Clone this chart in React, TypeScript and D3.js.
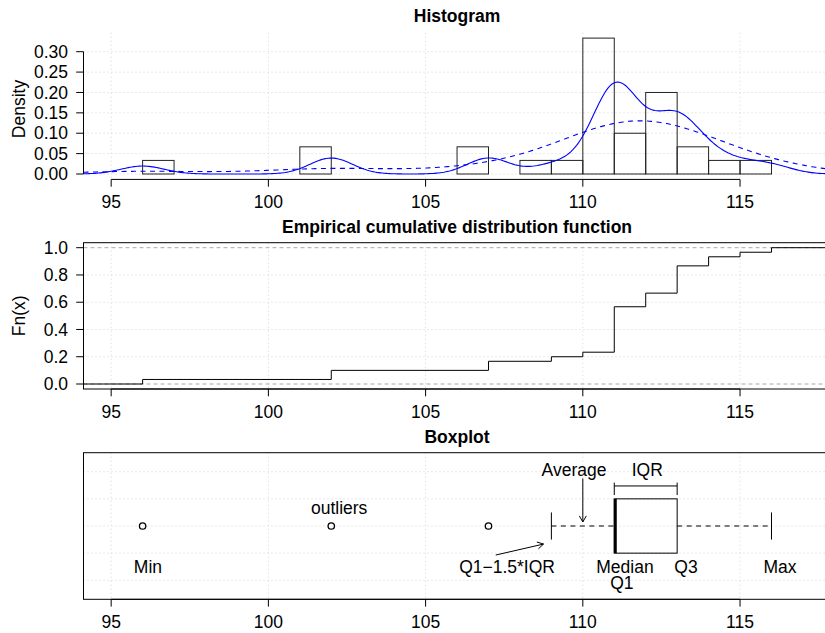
import React from "react";
import * as d3 from "d3";

const observations = [
  96, 102, 102, 107, 107, 109, 110,
  111, 111, 111, 111, 111, 111, 111, 111, 111, 111,
  112, 112, 112,
  113, 113, 113, 113, 113, 113,
  114, 114, 115, 116,
];
const binEdges = [96, 97, 98, 99, 100, 101, 102, 103, 104, 105, 106, 107, 108, 109, 110, 111, 112, 113, 114, 115, 116];
const xTicks = [95, 100, 105, 110, 115];
const densityTicks = [0, 0.05, 0.1, 0.15, 0.2, 0.25, 0.3];
const ecdfTicks = [0, 0.2, 0.4, 0.6, 0.8, 1];
const boxGridLevels = [0.6, 0.8, 1, 1.2, 1.4];
const wideBwFactor = 3; // dashed curve: smoother kernel estimate

const FONT = "'Liberation Sans', Arial, Helvetica, sans-serif";
const FS = 17.5;
const W = 825;
const H = 633;
const DASH = "5,4.5";

const x = d3.scaleLinear().domain([94.12, 117.88]).range([83.5, 830.6]);

// panel regions
const hist = { top: 32.7, bottom: 179.4 };
const ecdfP = { top: 242.7, bottom: 389 };
const boxP = { top: 452.7, bottom: 599.3 };

const yHist = d3.scaleLinear().domain([0, 0.3]).range([174, 51.7]);
const yEcdf = d3.scaleLinear().domain([0, 1]).range([384, 247.7]);
const yBox = d3.scaleLinear().domain([0.6, 1.4]).range([580.3, 471.7]);

const n = observations.length;
const sorted = observations.slice().sort(d3.ascending);

// histogram, right-closed bins with lowest included (like R's hist)
const bins = binEdges.slice(0, -1).map((a, i) => {
  const b = binEdges[i + 1];
  const count = sorted.filter((v) => (i === 0 ? v >= a : v > a) && v <= b).length;
  return { a, b, density: count / (n * (b - a)) };
});

// kernel density estimates
const q1 = d3.quantile(sorted, 0.25)!;
const q3 = d3.quantile(sorted, 0.75)!;
const med = d3.median(sorted)!;
const sd = d3.deviation(sorted)!;
const bw = 0.9 * Math.min(sd, (q3 - q1) / 1.34) * Math.pow(n, -0.2);
const kde = (h: number) => (t: number) =>
  d3.mean(sorted, (v) => Math.exp(-0.5 * ((t - v) / h) ** 2) / Math.sqrt(2 * Math.PI))! / h;
const grid = d3.range(0, 401).map((i) => x.domain()[0] + ((x.domain()[1] - x.domain()[0]) * i) / 400);
const kdeLine = d3.line<number[]>().x((d) => x(d[0])).y((d) => yHist(d[1])).curve(d3.curveLinear);
const solidKde = grid.map((t) => [t, kde(bw)(t)]);
const dashedKde = grid.map((t) => [t, kde(bw * wideBwFactor)(t)]);

// ecdf steps
const uniq = Array.from(new Set(sorted));
const ecdfPts = [[x.domain()[0], 0], ...uniq.map((v) => [v, sorted.filter((s) => s <= v).length / n]), [x.domain()[1], 1]];
const ecdfLine = d3.line<number[]>().x((d) => x(d[0])).y((d) => yEcdf(d[1])).curve(d3.curveStepAfter);

// boxplot stats
const iqr = q3 - q1;
const whiskLo = d3.min(sorted.filter((v) => v >= q1 - 1.5 * iqr))!;
const whiskHi = d3.max(sorted.filter((v) => v <= q3 + 1.5 * iqr))!;
const outliers = Array.from(new Set(sorted.filter((v) => v < whiskLo || v > whiskHi)));

const boxLabels = [
  { t: "Average", x: 109.72, y: 1.365 },
  { t: "IQR", x: 112.05, y: 1.365 },
  { t: "outliers", x: 102.25, y: 1.088 },
  { t: "Min", x: 96.17, y: 0.656 },
  { t: "Q1\u22121.5*IQR", x: 107.59, y: 0.656 },
  { t: "Median", x: 111.34, y: 0.656 },
  { t: "Q1", x: 111.24, y: 0.538 },
  { t: "Q3", x: 113.28, y: 0.656 },
  { t: "Max", x: 116.27, y: 0.656 },
];

function Arrow({ x1, y1, x2, y2 }: { x1: number; y1: number; x2: number; y2: number }) {
  const ang = Math.atan2(y2 - y1, x2 - x1);
  const len = 7;
  const a1 = ang + Math.PI - Math.PI / 6;
  const a2 = ang + Math.PI + Math.PI / 6;
  return (
    <g stroke="#000" strokeWidth={1} fill="none">
      <line x1={x1} y1={y1} x2={x2} y2={y2} />
      <polyline
        points={`${x2 + len * Math.cos(a1)},${y2 + len * Math.sin(a1)} ${x2},${y2} ${x2 + len * Math.cos(a2)},${y2 + len * Math.sin(a2)}`}
      />
    </g>
  );
}

function XAxis({ y0 }: { y0: number }) {
  return (
    <g>
      <line x1={x(xTicks[0])} x2={x(xTicks[xTicks.length - 1])} y1={y0} y2={y0} stroke="#000" />
      {xTicks.map((t) => (
        <g key={t}>
          <line x1={x(t)} x2={x(t)} y1={y0} y2={y0 + 7.3} stroke="#000" />
          <text x={x(t)} y={y0 + 28.7} textAnchor="middle" fontSize={FS} fontFamily={FONT}>
            {t}
          </text>
        </g>
      ))}
    </g>
  );
}

function YAxis({ scale, ticks, fmt }: { scale: d3.ScaleLinear<number, number>; ticks: number[]; fmt: (v: number) => string }) {
  const x0 = x.range()[0];
  return (
    <g>
      <line x1={x0} x2={x0} y1={scale(ticks[0])} y2={scale(ticks[ticks.length - 1])} stroke="#000" />
      {ticks.map((t) => (
        <g key={t}>
          <line x1={x0 - 7.3} x2={x0} y1={scale(t)} y2={scale(t)} stroke="#000" />
          <text x={x0 - 15.5} y={scale(t) + 6.2} textAnchor="end" fontSize={FS} fontFamily={FONT}>
            {fmt(t)}
          </text>
        </g>
      ))}
    </g>
  );
}

function Grid({ top, bottom, levels, scale }: { top: number; bottom: number; levels: number[]; scale: (v: number) => number }) {
  return (
    <g stroke="#d3d3d3" strokeDasharray="1,3" strokeWidth={1}>
      {xTicks.map((t) => (
        <line key={"v" + t} x1={x(t)} x2={x(t)} y1={top} y2={bottom} />
      ))}
      {levels.map((l) => (
        <line key={"h" + l} x1={x.range()[0]} x2={x.range()[1]} y1={scale(l)} y2={scale(l)} />
      ))}
    </g>
  );
}

export default function App() {
  const left = x.range()[0];
  const right = x.range()[1];
  const midX = (left + right) / 2;
  const title = (t: string, y: number) => (
    <text x={midX} y={y} textAnchor="middle" fontSize={FS} fontWeight="bold" fontFamily={FONT}>
      {t}
    </text>
  );
  const yb = yBox(1);
  return (
    <svg width={W} height={H} style={{ position: "absolute", left: 0, top: 0, background: "#fff" }}>
      <defs>
        <clipPath id="cHist">
          <rect x={left} y={hist.top} width={right - left} height={hist.bottom - hist.top} />
        </clipPath>
        <clipPath id="cEcdf">
          <rect x={left} y={ecdfP.top} width={right - left} height={ecdfP.bottom - ecdfP.top} />
        </clipPath>
      </defs>

      {/* Histogram */}
      {title("Histogram", 21.5)}
      <Grid top={hist.top} bottom={hist.bottom} levels={densityTicks} scale={yHist} />
      <g fill="none" stroke="#222" strokeWidth={1}>
        {bins
          .filter((b) => b.density > 0)
          .map((b) => (
            <rect key={b.a} x={x(b.a)} y={yHist(b.density)} width={x(b.b) - x(b.a)} height={yHist(0) - yHist(b.density)} />
          ))}
      </g>
      <g clipPath="url(#cHist)" fill="none" stroke="#0000ff" strokeWidth={1.1}>
        <path d={kdeLine(solidKde) || ""} />
        <path d={kdeLine(dashedKde) || ""} strokeDasharray={DASH} />
      </g>
      <YAxis scale={yHist} ticks={densityTicks} fmt={d3.format(".2f")} />
      <XAxis y0={hist.bottom} />
      <text transform={`translate(25,${(hist.top + hist.bottom) / 2 + 3}) rotate(-90)`} textAnchor="middle" fontSize={FS} fontFamily={FONT}>
        Density
      </text>

      {/* ECDF */}
      {title("Empirical cumulative distribution function", 232.5)}
      <Grid top={ecdfP.top} bottom={ecdfP.bottom} levels={ecdfTicks.slice(1, -1)} scale={yEcdf} />
      <g stroke="#aaaaaa" strokeDasharray="4,3" strokeWidth={1}>
        <line x1={left} x2={right} y1={yEcdf(0)} y2={yEcdf(0)} />
        <line x1={left} x2={right} y1={yEcdf(1)} y2={yEcdf(1)} />
      </g>
      <path d={ecdfLine(ecdfPts) || ""} fill="none" stroke="#000" strokeWidth={1} clipPath="url(#cEcdf)" />
      <rect x={left} y={ecdfP.top} width={right - left} height={ecdfP.bottom - ecdfP.top} fill="none" stroke="#000" />
      <YAxis scale={yEcdf} ticks={ecdfTicks} fmt={d3.format(".1f")} />
      <XAxis y0={ecdfP.bottom} />
      <text transform={`translate(25,${(ecdfP.top + ecdfP.bottom) / 2}) rotate(-90)`} textAnchor="middle" fontSize={FS} fontFamily={FONT}>
        Fn(x)
      </text>

      {/* Boxplot */}
      {title("Boxplot", 442.5)}
      <Grid top={boxP.top} bottom={boxP.bottom} levels={boxGridLevels} scale={yBox} />
      <g stroke="#000" fill="none" strokeWidth={1}>
        <line x1={x(whiskLo)} x2={x(q1)} y1={yb} y2={yb} strokeDasharray={DASH} />
        <line x1={x(q3)} x2={x(whiskHi)} y1={yb} y2={yb} strokeDasharray={DASH} />
        <line x1={x(whiskLo)} x2={x(whiskLo)} y1={yBox(0.9)} y2={yBox(1.1)} />
        <line x1={x(whiskHi)} x2={x(whiskHi)} y1={yBox(0.9)} y2={yBox(1.1)} />
        <rect x={x(q1)} y={yBox(1.2)} width={x(q3) - x(q1)} height={yBox(0.8) - yBox(1.2)} />
        <line x1={x(med) + 1} x2={x(med) + 1} y1={yBox(1.2)} y2={yBox(0.8)} strokeWidth={3} />
        {outliers.map((o) => (
          <circle key={o} cx={x(o)} cy={yb} r={3.2} strokeWidth={1.3} />
        ))}
        {/* IQR bracket */}
        <line x1={x(q1)} x2={x(q3)} y1={yBox(1.295)} y2={yBox(1.295)} />
        <line x1={x(q1)} x2={x(q1)} y1={yBox(1.32)} y2={yBox(1.228)} />
        <line x1={x(q3)} x2={x(q3)} y1={yBox(1.32)} y2={yBox(1.228)} />
      </g>
      <Arrow x1={x(110)} y1={yBox(1.35)} x2={x(110)} y2={yBox(1.03)} />
      <Arrow x1={x(107.23)} y1={yBox(0.786)} x2={x(108.75)} y2={yBox(0.867)} />
      {boxLabels.map((l) => (
        <text key={l.t} x={x(l.x)} y={yBox(l.y)} textAnchor="middle" fontSize={FS} fontFamily={FONT}>
          {l.t}
        </text>
      ))}
      <rect x={left} y={boxP.top} width={right - left} height={boxP.bottom - boxP.top} fill="none" stroke="#000" />
      <XAxis y0={boxP.bottom} />
    </svg>
  );
}
